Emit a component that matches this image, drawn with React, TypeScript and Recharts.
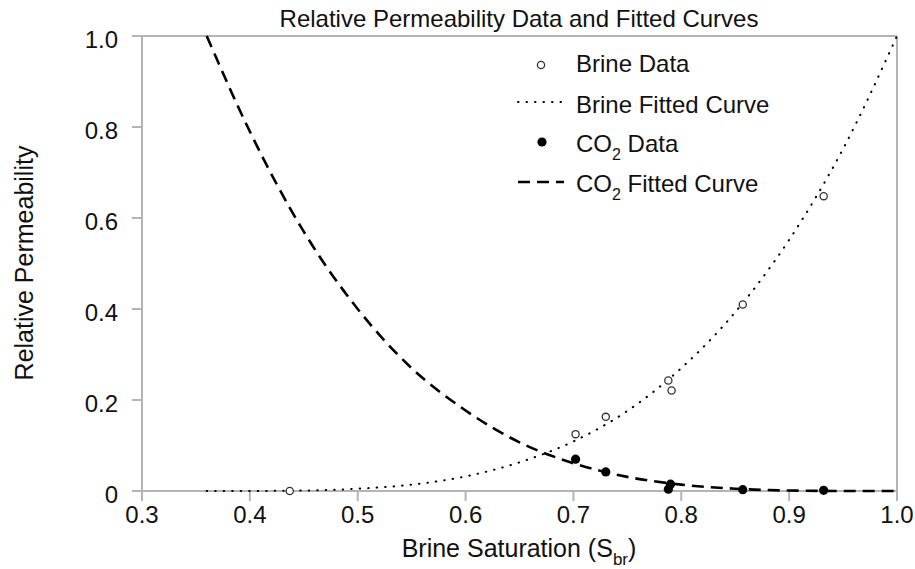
import React from "react";
import {
  ComposedChart,
  Label,
  Line,
  Scatter,
  XAxis,
  YAxis,
} from "recharts";

const FONT = '"Liberation Sans", Arial, Helvetica, sans-serif';
const AXIS = "#b4b4b4";
const INK = "#111";

// measured data points
const brineDataS = [0.437, 0.702, 0.73, 0.788, 0.791, 0.857, 0.932];
const brineDataKr = [0.0, 0.125, 0.163, 0.243, 0.221, 0.41, 0.648];
const co2DataS = [0.702, 0.73, 0.788, 0.79, 0.857, 0.932];
const co2DataKr = [0.07, 0.042, 0.004, 0.015, 0.003, 0.0015];

// fitted curves
const curveS = [0.36, 0.4, 0.45, 0.5, 0.55, 0.6, 0.65, 0.7, 0.75, 0.8, 0.85, 0.9, 0.95, 1.0];
const brineFitKr = [0, 0.0001, 0.001, 0.005, 0.014, 0.032, 0.063, 0.109, 0.176, 0.27, 0.393, 0.552, 0.752, 1.0];
const co2FitKr = [1.0, 0.79, 0.57, 0.4, 0.27, 0.177, 0.107, 0.061, 0.031, 0.014, 0.005, 0.001, 0.0001, 0];

const xTicks = [0.3, 0.4, 0.5, 0.6, 0.7, 0.8, 0.9, 1.0];
const yTicks = [0, 0.2, 0.4, 0.6, 0.8, 1.0];

const brineData = brineDataS.map((s, i) => ({ s, kr: brineDataKr[i] }));
const co2Data = co2DataS.map((s, i) => ({ s, kr: co2DataKr[i] }));
const brineFit = curveS.map((s, i) => ({ s, kr: brineFitKr[i] }));
const co2Fit = curveS.map((s, i) => ({ s, kr: co2FitKr[i] }));

const OpenDot = (p: any) => (
  <circle cx={p.cx} cy={p.cy} r={3.6} fill="#fff" stroke="#333" strokeWidth={1.3} />
);
const FilledDot = (p: any) => <circle cx={p.cx} cy={p.cy} r={4.6} fill="#000" />;

const textStyle = { fontFamily: FONT, fill: INK };

function LegendBox() {
  return (
    <svg
      width={300}
      height={170}
      style={{ position: "absolute", left: 510, top: 40, overflow: "visible" }}
    >
      <circle cx={31} cy={25} r={3.6} fill="#fff" stroke="#333" strokeWidth={1.3} />
      <text x={66} y={32} fontSize={24} {...textStyle}>Brine Data</text>

      <line x1={8} y1={62} x2={54} y2={62} stroke="#000" strokeWidth={2} strokeDasharray="0.5 8" strokeLinecap="round" />
      <text x={66} y={73} fontSize={24} {...textStyle}>Brine Fitted Curve</text>

      <circle cx={32} cy={102} r={4.6} fill="#000" />
      <text x={66} y={112} fontSize={24} {...textStyle}>
        CO<tspan fontSize={16} dy={8}>2</tspan>
        <tspan dy={-8}> Data</tspan>
      </text>

      <line x1={8} y1={142} x2={54} y2={142} stroke="#000" strokeWidth={2.6} strokeDasharray="12 7" />
      <text x={66} y={152} fontSize={24} {...textStyle}>
        CO<tspan fontSize={16} dy={8}>2</tspan>
        <tspan dy={-8}> Fitted Curve</tspan>
      </text>
    </svg>
  );
}

export default function App() {
  return (
    <div style={{ position: "absolute", left: 0, top: 0, width: 915, height: 569, background: "#fff" }}>
      <ComposedChart width={915} height={569} margin={{ top: 0, right: 0, bottom: 0, left: 0 }}>
        <XAxis
          dataKey="s"
          type="number"
          domain={[0.3, 1]}
          ticks={xTicks}
          height={78}
          tickFormatter={(v: number) => v.toFixed(1)}
          tick={{ fontSize: 24, fontFamily: FONT, fill: INK }}
          tickSize={10}
          tickMargin={5}
          tickLine={{ stroke: AXIS, strokeWidth: 2 }}
          axisLine={{ stroke: AXIS, strokeWidth: 2 }}
        >
          <Label
            content={() => (
              <text x={519} y={557} textAnchor="middle" fontSize={25} {...textStyle}>
                Brine Saturation (S<tspan fontSize={17} dy={8}>br</tspan>
                <tspan dy={-8}>)</tspan>
              </text>
            )}
          />
        </XAxis>
        <XAxis
          xAxisId="top"
          orientation="top"
          type="number"
          domain={[0.3, 1]}
          height={36}
          tick={false}
          tickLine={false}
          axisLine={{ stroke: AXIS, strokeWidth: 2 }}
        >
          <Label
            content={() => (
              <text x={519} y={27} textAnchor="middle" fontSize={24} {...textStyle}>
                Relative Permeability Data and Fitted Curves
              </text>
            )}
          />
        </XAxis>
        <YAxis
          type="number"
          domain={[0, 1]}
          ticks={yTicks}
          width={142}
          tickFormatter={(v: number) => (v === 0 ? "0" : v.toFixed(1))}
          tick={{ fontSize: 24, fontFamily: FONT, fill: INK, dy: 3 }}
          tickSize={10}
          tickMargin={14}
          tickLine={{ stroke: AXIS, strokeWidth: 2 }}
          axisLine={{ stroke: AXIS, strokeWidth: 2 }}
        >
          <Label
            content={() => (
              <text
                x={33}
                y={263}
                textAnchor="middle"
                fontSize={25}
                transform="rotate(-90 33 263)"
                {...textStyle}
              >
                Relative Permeability
              </text>
            )}
          />
        </YAxis>
        <YAxis
          yAxisId="right"
          orientation="right"
          type="number"
          domain={[0, 1]}
          width={18}
          tick={false}
          tickLine={false}
          axisLine={{ stroke: AXIS, strokeWidth: 2 }}
        />
        <Line
          data={brineFit}
          dataKey="kr"
          type="monotone"
          stroke="#000"
          strokeWidth={2}
          strokeDasharray="0.5 8"
          strokeLinecap="round"
          dot={false}
          activeDot={false}
          isAnimationActive={false}
          legendType="none"
          zIndex={650}
        />
        <Line
          data={co2Fit}
          dataKey="kr"
          type="monotone"
          stroke="#000"
          strokeWidth={2.6}
          strokeDasharray="12 7"
          dot={false}
          activeDot={false}
          isAnimationActive={false}
          legendType="none"
          zIndex={650}
        />
        <Scatter data={brineData} dataKey="kr" shape={OpenDot} isAnimationActive={false} zIndex={700} />
        <Scatter data={co2Data} dataKey="kr" shape={FilledDot} isAnimationActive={false} zIndex={700} />
      </ComposedChart>
      <LegendBox />
    </div>
  );
}
